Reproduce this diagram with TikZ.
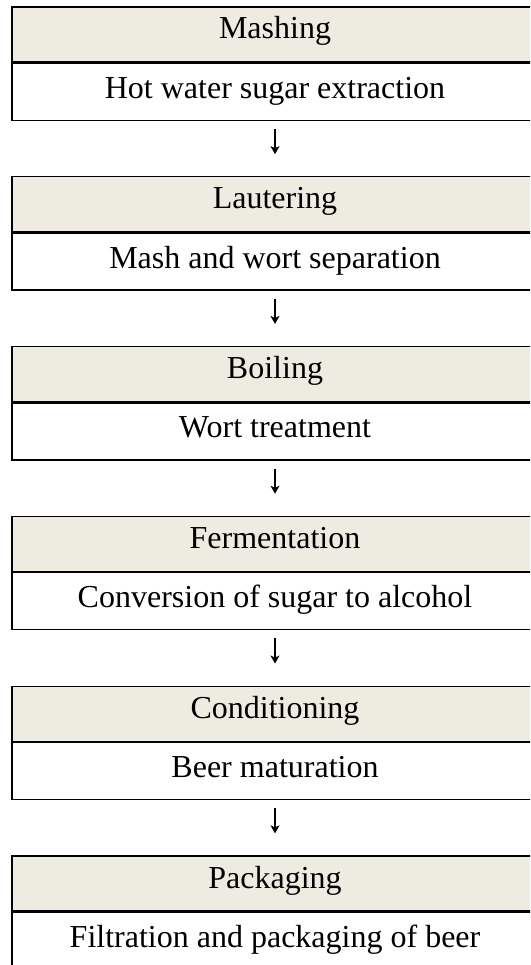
\documentclass[tikz,border=0pt]{standalone}
\usepackage{fontspec}
\setmainfont{Liberation Serif}
\usetikzlibrary{positioning,arrows.meta}
\definecolor{headfill}{HTML}{EEECE1}
\tikzstyle{stagehead} = [rectangle, draw, line width=1.3pt, fill=headfill, minimum width=526pt, inner sep=0pt, text height=32pt, text depth=23pt, font=\fontsize{32}{38}\selectfont]
\tikzstyle{stagetext} = [rectangle, draw, line width=1.3pt, fill=white, minimum width=526pt, inner sep=0pt, text height=35pt, text depth=22pt, font=\fontsize{32}{38}\selectfont]
\tikzstyle{flow} = [-{Stealth[length=8pt,width=9pt,inset=2pt]}, line width=1.2pt, shorten <=8pt, shorten >=22pt]

\begin{document}
\begin{tikzpicture}[node distance=169.8pt]
    \useasboundingbox (0,0) rectangle (530pt,-965pt);
    \clip (0,0) rectangle (530pt,-965pt);

    % stages
    \node[stagehead] at (275pt,-34.5pt) (mashing) {Mashing};
    \node[stagehead, below of=mashing] (lautering) {Lautering};
    \node[stagehead, below of=lautering] (boiling) {Boiling};
    \node[stagehead, below of=boiling] (fermentation) {Fermentation};
    \node[stagehead, below of=fermentation] (conditioning) {Conditioning};
    \node[stagehead, below of=conditioning] (packaging) {Packaging};

    \node[stagetext, below=0pt of mashing] (mashingtxt) {Hot water sugar extraction};
    \node[stagetext, below=0pt of lautering] (lauteringtxt) {Mash and wort separation};
    \node[stagetext, below=0pt of boiling] (boilingtxt) {Wort treatment};
    \node[stagetext, below=0pt of fermentation] (fermentationtxt) {Conversion of sugar to alcohol};
    \node[stagetext, below=0pt of conditioning] (conditioningtxt) {Beer maturation};
    \node[stagetext, below=0pt of packaging] (packagingtxt) {Filtration and packaging of beer};

    % arrows
    \draw[flow] (mashingtxt) -- (lautering);
    \draw[flow] (lauteringtxt) -- (boiling);
    \draw[flow] (boilingtxt) -- (fermentation);
    \draw[flow] (fermentationtxt) -- (conditioning);
    \draw[flow] (conditioningtxt) -- (packaging);
\end{tikzpicture}
\end{document}
